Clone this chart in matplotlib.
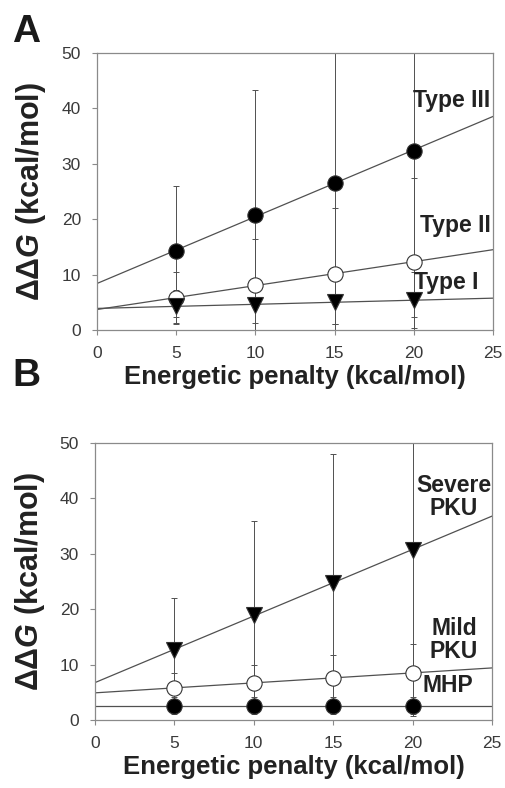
import numpy as np
import matplotlib
matplotlib.use("Agg")
import matplotlib.pyplot as plt

plt.rcParams['font.family'] = ['Liberation Sans', 'DejaVu Sans']
plt.rcParams['mathtext.fontset'] = 'custom'
plt.rcParams['mathtext.it'] = 'Liberation Sans:italic:bold'
plt.rcParams['mathtext.rm'] = 'Liberation Sans:bold'

x = [5, 10, 15, 20]

# Panel A
type3 = [14.2, 20.8, 26.5, 32.4]
type3_err = [11.8, 22.5, 25.5, 30.0]
type2 = [5.8, 8.1, 10.2, 12.3]
type2_err = [4.7, 8.3, 11.8, 15.1]
type1 = [4.3, 4.6, 5.0, 5.4]
type1_err = [3.0, 3.4, 4.0, 5.1]

# Panel B
severe = [12.6, 19.0, 24.8, 30.7]
severe_err = [9.4, 17.0, 23.2, 30.0]
mild = [5.8, 6.7, 7.6, 8.5]
mild_err = [2.6, 3.3, 4.2, 5.3]
mhp = [2.6, 2.6, 2.6, 2.6]
mhp_err = [1.6, 1.6, 1.6, 1.6]

xticks = [0, 5, 10, 15, 20, 25]
yticks = [0, 10, 20, 30, 40, 50]

fig = plt.figure(figsize=(5.06, 7.88), dpi=100)
axA = fig.add_axes([0.1917, 0.5812, 0.7826, 0.3515])
axB = fig.add_axes([0.1877, 0.0863, 0.7846, 0.3515])

gray = '#8a8a8a'
line_c = '#505050'


def series(ax, y, err, marker, filled):
    xs = np.array(x, dtype=float)
    ys = np.array(y, dtype=float)
    slope, icpt = np.polyfit(xs, ys, 1)
    xx = np.array([0, 25])
    ax.plot(xx, icpt + slope * xx, color=line_c, lw=0.9, zorder=2)
    ax.errorbar(xs, ys, yerr=err, fmt='none', ecolor=line_c, elinewidth=0.7,
                capsize=2.5, capthick=0.7, zorder=1)
    ax.plot(xs, ys, linestyle='none', marker=marker, ms=11 if marker == 'o' else 11.5,
            mfc='black' if filled else 'white', mec='#333333', mew=0.8, zorder=3)


def style(ax, ylx):
    ax.set_xlim(0, 25)
    ax.set_ylim(0, 50)
    ax.set_xticks(xticks)
    ax.set_yticks(yticks)
    for s in ax.spines.values():
        s.set_color(gray)
        s.set_linewidth(0.9)
    ax.tick_params(direction='out', length=3.5, width=0.8, color=gray,
                   labelsize=12.5, labelcolor='#3a3a3a', pad=8)
    ax.set_xlabel('Energetic penalty (kcal/mol)', fontsize=18.5, fontweight='bold',
                  color='#222222')
    ax.xaxis.set_label_coords(0.5, -0.125)
    ax.set_ylabel('ΔΔ$\\mathit{G}$ (kcal/mol)', fontsize=22,
                  fontweight='bold', color='#222222')
    ax.yaxis.set_label_coords(ylx, 0.5)


tc = '#222222'
series(axA, type3, type3_err, 'o', True)
series(axA, type2, type2_err, 'o', False)
series(axA, type1, type1_err, 'v', True)
style(axA, -0.125)
axA.text(24.85, 41.5, 'Type III', ha='right', va='center', fontsize=16.5, fontweight='bold', color=tc)
axA.text(24.85, 18.8, 'Type II', ha='right', va='center', fontsize=16.5, fontweight='bold', color=tc)
axA.text(24.1, 8.5, 'Type I', ha='right', va='center', fontsize=16.5, fontweight='bold', color=tc)

series(axB, severe, severe_err, 'v', True)
series(axB, mild, mild_err, 'o', False)
series(axB, mhp, mhp_err, 'o', True)
style(axB, -0.121)
axB.text(22.6, 40.2, 'Severe\nPKU', ha='center', va='center', fontsize=16.5, fontweight='bold',
         color=tc, linespacing=1.0)
axB.text(22.6, 14.5, 'Mild\nPKU', ha='center', va='center', fontsize=16.5, fontweight='bold',
         color=tc, linespacing=1.0)
axB.text(22.2, 6.3, 'MHP', ha='center', va='center', fontsize=16.5, fontweight='bold', color=tc)

fig.text(0.024, 0.959, 'A', fontsize=28, fontweight='bold', color='#1a1a1a', va='center')
fig.text(0.024, 0.523, 'B', fontsize=28, fontweight='bold', color='#1a1a1a', va='center')

fig.savefig('out.png', dpi=100)
